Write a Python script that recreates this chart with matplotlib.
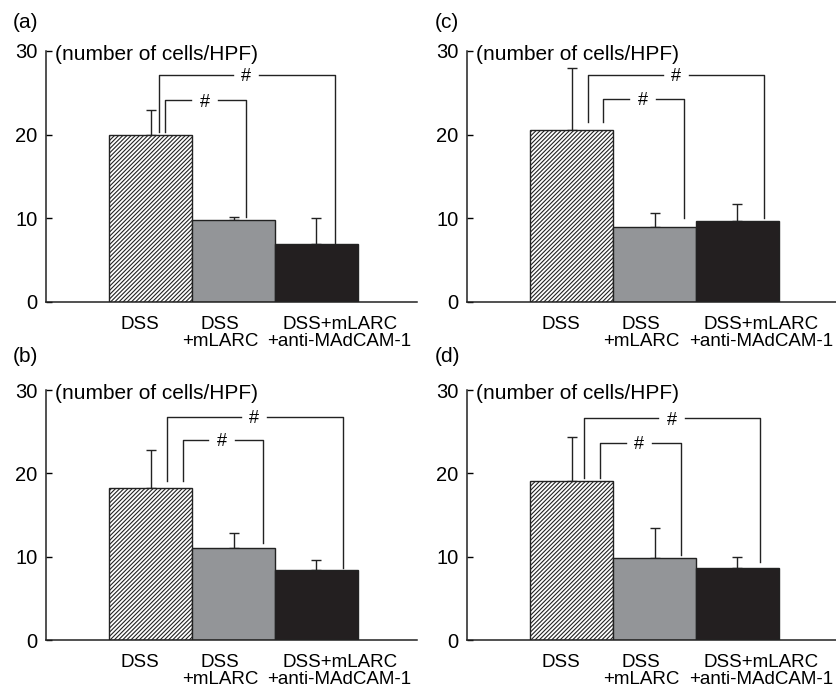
import matplotlib
matplotlib.use("Agg")
import matplotlib.pyplot as plt

plt.rcParams['font.family'] = ['Liberation Sans', 'DejaVu Sans']
plt.rcParams['hatch.linewidth'] = 0.8

groups = ["DSS", "DSS\n+mLARC", "DSS+mLARC\n+anti-MAdCAM-1"]
label_pos = [-0.13, 0.84, 2.28]
panels = ["(a)", "(b)", "(c)", "(d)"]

# mean and upper SD, number of cells/HPF
means_a = [19.9, 9.8, 6.9]
sd_a = [3.1, 0.4, 3.1]
means_b = [18.2, 11.0, 8.4]
sd_b = [4.6, 1.8, 1.2]
means_c = [20.5, 9.0, 9.7]
sd_c = [7.5, 1.6, 2.0]
means_d = [19.1, 9.8, 8.6]
sd_d = [5.3, 3.7, 1.4]

# significance brackets: (x left, x right, height, left foot, right foot, x of '#')
outer_a = (0.10, 2.22, 27.1, 20.35, 6.9, 1.15)
inner_a = (0.175, 1.15, 24.1, 20.35, 10.2, 0.65)
outer_b = (0.195, 2.315, 26.8, 19.1, 8.6, 1.247)
inner_b = (0.388, 1.36, 24.0, 19.1, 11.6, 0.858)
outer_c = (0.20, 2.32, 27.15, 21.5, 10.0, 1.26)
inner_c = (0.373, 1.357, 24.3, 21.5, 10.0, 0.855)
outer_d = (0.148, 2.277, 26.6, 19.5, 9.4, 1.205)
inner_d = (0.341, 1.317, 23.7, 19.5, 10.2, 0.815)

fill = ["white", "#939598", "#231f20"]
hatches = ["////////", "", ""]
gap = 0.16


def drawBracket(ax, b):
    x1, x2, h, y1, y2, xh = b
    kw = dict(color="#222222", lw=1.0)
    ax.plot([x1, x1, xh - gap], [y1, h, h], **kw)
    ax.plot([xh + gap, x2, x2], [h, h, y2], **kw)
    ax.text(xh, h - 0.2, "#", ha="center", va="center", fontsize=13)


def plotPanel(ax, means, sd, outer, inner, label, lpos):
    x = [0, 1, 2]
    ax.bar(x, means, width=1.0, color=fill, edgecolor="#222222",
           hatch=hatches, linewidth=1.0, zorder=2)
    ax.errorbar(x, means, yerr=[[0, 0, 0], sd], fmt="none", ecolor="#222222",
                elinewidth=1.0, capsize=3.5, capthick=1.0, zorder=1)
    drawBracket(ax, outer)
    drawBracket(ax, inner)
    ax.set_ylim(0, 30)
    ax.set_xlim(-1.26, 3.21)
    ax.set_yticks([0, 10, 20, 30])
    ax.tick_params(axis="y", direction="in", length=4, width=1.0,
                   labelsize=14.5, pad=6)
    ax.set_xticks(label_pos)
    ax.set_xticklabels(groups, fontsize=13.5, linespacing=1.0)
    ax.tick_params(axis="x", length=0, pad=10)
    for s in ["top", "right"]:
        ax.spines[s].set_visible(False)
    for s in ["left", "bottom"]:
        ax.spines[s].set_linewidth(1.1)
        ax.spines[s].set_color("#222222")
    ax.text(0.025, 0.985, "(number of cells/HPF)", transform=ax.transAxes,
            ha="left", va="center", fontsize=15)


fig = plt.figure(figsize=(8.37, 6.89), dpi=100)
ax_a = fig.add_axes([0.055, 0.5617, 0.443, 0.3643])
ax_c = fig.add_axes([0.558, 0.5617, 0.443, 0.3643])
ax_b = fig.add_axes([0.055, 0.0711, 0.443, 0.3628])
ax_d = fig.add_axes([0.558, 0.0711, 0.443, 0.3628])

plotPanel(ax_a, means_a, sd_a, outer_a, inner_a, panels[0], label_pos)
plotPanel(ax_b, means_b, sd_b, outer_b, inner_b, panels[1], label_pos)
plotPanel(ax_c, means_c, sd_c, outer_c, inner_c, panels[2], label_pos)
plotPanel(ax_d, means_d, sd_d, outer_d, inner_d, panels[3], label_pos)

fig.text(13 / 837, 1 - 23 / 689, panels[0], fontsize=15, va="center")
fig.text(435 / 837, 1 - 23 / 689, panels[2], fontsize=15, va="center")
fig.text(13 / 837, 1 - 356 / 689, panels[1], fontsize=15, va="center")
fig.text(435 / 837, 1 - 356 / 689, panels[3], fontsize=15, va="center")

fig.savefig("out.png", dpi=100)
